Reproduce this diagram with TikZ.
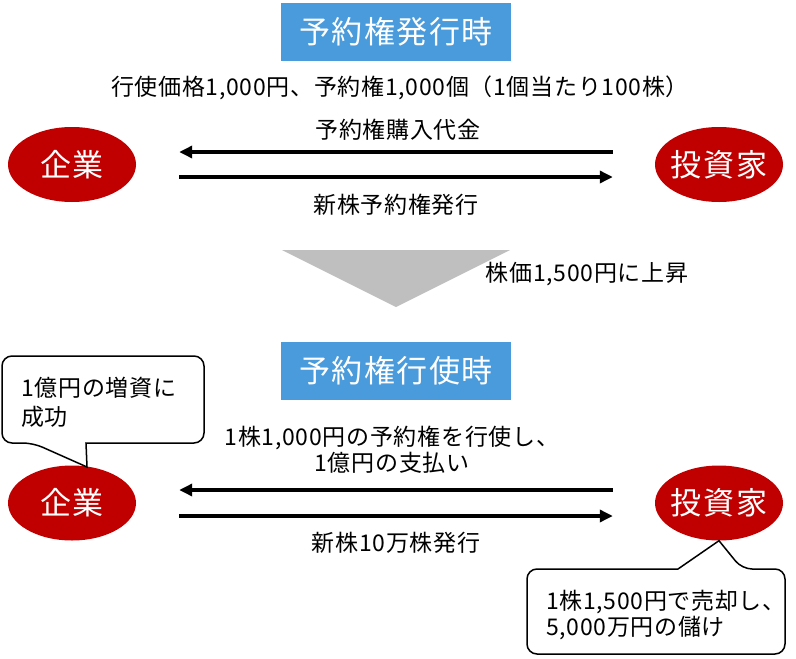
\documentclass[tikz,border=0pt]{standalone}
\usepackage{fontspec}
\setmainfont{Noto Sans CJK JP}[LetterSpace=3]
\newfontfamily\bigfont{Noto Sans CJK JP}[LetterSpace=5]
\usetikzlibrary{arrows.meta,shapes.geometric}
\definecolor{hdrblue}{HTML}{4A9BDC}
\definecolor{entred}{HTML}{C00000}
\definecolor{arrgray}{HTML}{BFBFBF}
\newcommand{\zw}[1]{\makebox[0pt]{#1}}
\begin{document}
\begin{tikzpicture}[x=1pt,y=-1pt,
  lbl/.style={inner sep=0pt, font=\fontsize{23}{26}\selectfont},
  hdr/.style={fill=hdrblue, text=white, minimum width=230pt, minimum height=58pt, inner sep=0pt, font=\bigfont\fontsize{31}{33}\selectfont},
  ent/.style={ellipse, fill=entred, text=white, minimum width=128pt, minimum height=75pt, inner sep=0pt, font=\bigfont\fontsize{31}{33}\selectfont},
  arr/.style={line width=4pt, -{Triangle[length=13pt,width=12pt]}},
  callout/.style={draw=black, line width=1.5pt, fill=white}
]
\useasboundingbox (0,0) rectangle (796,659);

% top section
\node[hdr] (h1) at (396,32) {予約権発行時};
\node[lbl] (cond) at (400,88) {行使価格1,000円、予約権1,000個（1個当たり100株）};
\node[ent] (corp1) at (72,164.5) {\zw{企業}};
\node[ent] (inv1) at (719,164.5) {\zw{投資家}};
\draw[arr] ([xshift=-42pt,yshift=12.5pt]inv1.west) -- ([xshift=43pt,yshift=12.5pt]corp1.east);
\draw[arr] ([xshift=43pt,yshift=-12.5pt]corp1.east) -- ([xshift=-42pt,yshift=-12.5pt]inv1.west);
\node[lbl] (pay1) at (398,130) {予約権購入代金};
\node[lbl] (iss1) at (396,205) {新株予約権発行};

% transition
\fill[arrgray] (282,250) -- (510,250) -- (396,307) -- cycle;
\node[lbl] (rise) at (587,274) {株価1,500円に上昇};

% bottom section
\node[hdr] (h2) at (396,370.5) {予約権行使時};
\node[ent] (corp2) at (72,503) {\zw{企業}};
\node[ent] (inv2) at (719,503) {\zw{投資家}};
\draw[arr] ([xshift=-42pt,yshift=13pt]inv2.west) -- ([xshift=43pt,yshift=13pt]corp2.east);
\draw[arr] ([xshift=43pt,yshift=-13pt]corp2.east) -- ([xshift=-42pt,yshift=-13pt]inv2.west);
\node[lbl, align=center, font=\fontsize{23}{26}\selectfont] (pay2) at (392,450) {1株1,000円の予約権を行使し、\\1億円の支払い};
\node[lbl] (iss2) at (396,543) {新株10万株発行};

% callouts
\coordinate (t1) at (87,467);
\draw[callout] (33,443) -- (t1) -- (86,443) [rounded corners=10pt] -- (204,443) -- (204,356) -- (2,356) -- (2,443) -- cycle;
\node[lbl, anchor=west, align=left, font=\fontsize{23}{28.5}\selectfont] (c1) at (21,402.5) {1億円の増資に\\成功};

\coordinate (t2) at (inv2.south);
\draw[callout] (742,569) -- (t2) -- (678,569) [rounded corners=10pt] -- (527,569) -- (527,654) -- (785,654) -- (785,569) -- cycle;
\node[lbl, anchor=west, align=left, font=\fontsize{23}{26.5}\selectfont] (c2) at (546,615) {1株1,500円で売却し、\\5,000万円の儲け};
\end{tikzpicture}
\end{document}
